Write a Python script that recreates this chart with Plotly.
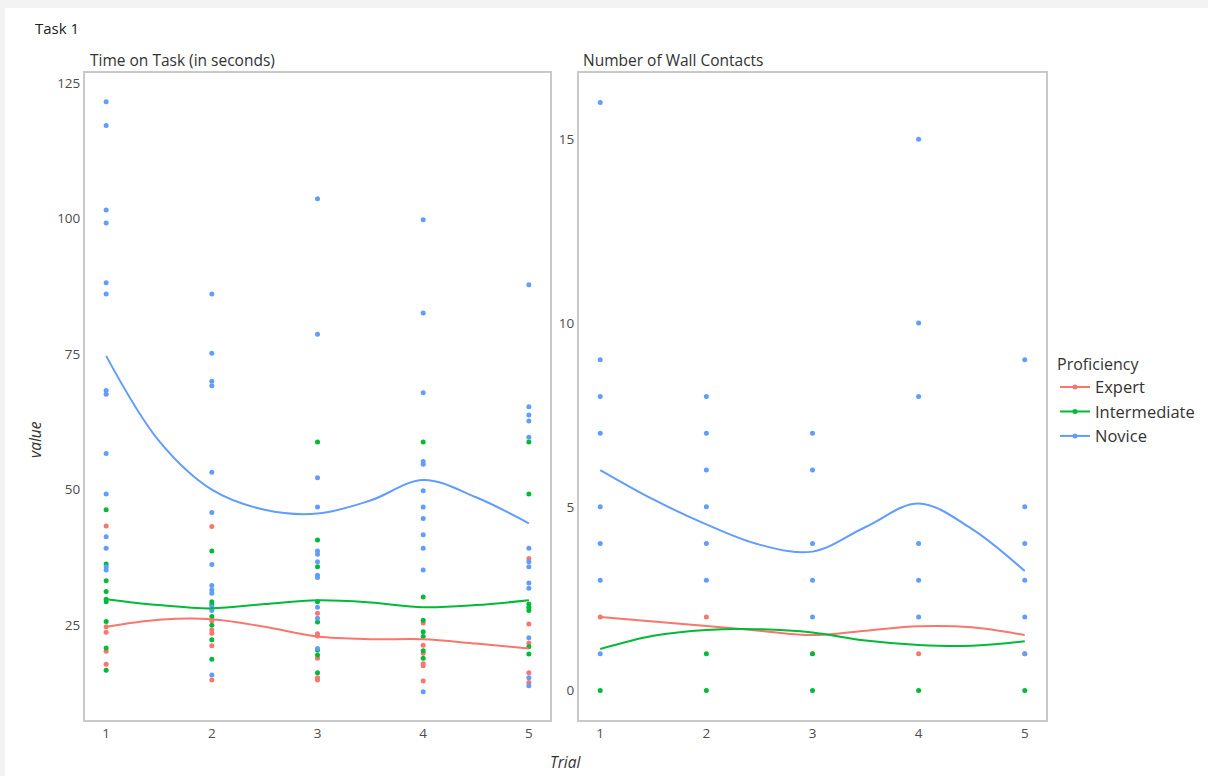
import plotly.graph_objects as go

# ---------------- data ----------------
trials = [1, 2, 3, 4, 5]
groups = ["Expert", "Intermediate", "Novice"]
colors = {"Expert": "#F8766D", "Intermediate": "#00BA38", "Novice": "#619CFF"}

# Time on task (seconds), one list per trial
time_expert = [
    [43.3, 24.7, 23.7, 20.2, 17.8],
    [43.2, 25.8, 24.1, 23.5, 21.2, 14.9],
    [27.2, 23.4, 23.0, 18.9, 15.3, 14.9],
    [25.4, 21.3, 19.8, 17.9, 17.5, 14.7],
    [37.3, 25.2, 21.7, 16.2, 14.4],
]
time_intermediate = [
    [46.3, 36.3, 33.2, 31.2, 29.8, 29.3, 25.7, 20.8, 16.7],
    [38.7, 29.3, 28.8, 26.6, 25.0, 22.3, 18.7],
    [58.8, 40.7, 35.8, 29.3, 25.6, 20.4, 19.5, 16.2],
    [58.8, 30.2, 25.9, 23.8, 22.9, 20.3, 18.9],
    [58.8, 49.2, 28.9, 28.3, 27.7, 21.0, 19.7],
]
time_novice = [
    [121.6, 117.2, 101.6, 99.2, 88.2, 86.1, 68.3, 67.6, 56.7, 49.2, 41.3, 39.2, 35.8, 35.2],
    [86.1, 75.2, 70.0, 69.2, 53.2, 45.8, 36.2, 32.3, 31.5, 30.9, 28.4, 27.7, 15.8],
    [103.7, 78.7, 52.2, 46.8, 38.7, 38.1, 36.7, 34.2, 33.8, 28.3, 26.3, 20.7],
    [99.8, 82.6, 67.9, 55.2, 54.7, 49.8, 46.8, 44.7, 41.7, 39.2, 35.2, 12.7],
    [87.8, 65.3, 63.8, 62.7, 59.7, 39.2, 36.7, 35.8, 32.8, 31.8, 22.7, 15.3, 13.8],
]

# Number of wall contacts, one list per trial
walls_expert = [[2], [2], [1], [1], [1]]
walls_intermediate = [[0], [1, 0], [1, 0], [0], [0]]
walls_novice = [
    [16, 9, 8, 7, 5, 4, 3, 1],
    [8, 7, 6, 5, 4, 3],
    [7, 6, 4, 3, 2],
    [15, 10, 8, 4, 3, 2],
    [9, 5, 4, 3, 2, 1],
]

# Loess trend values per group
smooth_x = [1, 1.5, 2, 2.5, 3, 3.5, 4, 4.5, 5]
time_smooth_expert = [24.7, 26.0, 26.1, 24.7, 22.9, 22.4, 22.4, 21.6, 20.7]
time_smooth_intermediate = [29.8, 28.7, 28.1, 28.9, 29.6, 29.2, 28.3, 28.7, 29.6]
time_smooth_novice = [74.7, 59.0, 50.0, 46.3, 45.6, 48.0, 51.8, 48.6, 43.8]
walls_smooth_expert = [2.0, 1.88, 1.76, 1.63, 1.51, 1.63, 1.75, 1.72, 1.51]
walls_smooth_intermediate = [1.13, 1.49, 1.65, 1.67, 1.58, 1.36, 1.24, 1.22, 1.34]
walls_smooth_novice = [6.0, 5.2, 4.52, 3.97, 3.78, 4.45, 5.09, 4.4, 3.25]

time_points = {"Expert": time_expert, "Intermediate": time_intermediate, "Novice": time_novice}
walls_points = {"Expert": walls_expert, "Intermediate": walls_intermediate, "Novice": walls_novice}
time_smooth = {"Expert": time_smooth_expert, "Intermediate": time_smooth_intermediate,
               "Novice": time_smooth_novice}
walls_smooth = {"Expert": walls_smooth_expert, "Intermediate": walls_smooth_intermediate,
                "Novice": walls_smooth_novice}

# ---------------- figure ----------------
W, H = 1208, 776
FONT = "'Open Sans', sans-serif"
TICK_COLOR = "#4d4d4d"
FRAME = "#c9c9c9"


def flatten(per_trial):
    xs, ys = [], []
    for t, vals in zip(trials, per_trial):
        xs += [t] * len(vals)
        ys += vals
    return xs, ys


fig = go.Figure()

panels = [("x", "y", time_points, time_smooth), ("x2", "y2", walls_points, walls_smooth)]
for xa, ya, pts, sm in panels:
    for g in groups:
        xs, ys = flatten(pts[g])
        fig.add_trace(go.Scatter(
            x=xs, y=ys, mode="markers", xaxis=xa, yaxis=ya,
            marker=dict(color=colors[g], size=5, line=dict(width=0)),
            showlegend=False, hoverinfo="x+y",
        ))
    for g in groups:
        fig.add_trace(go.Scatter(
            x=smooth_x, y=sm[g], mode="lines", xaxis=xa, yaxis=ya,
            line=dict(color=colors[g], width=2, shape="spline", smoothing=1.0),
            showlegend=False, hoverinfo="skip",
        ))

# legend entries (point + trend line)
for g in groups:
    fig.add_trace(go.Scatter(
        x=[None], y=[None], mode="lines+markers", name=g,
        line=dict(color=colors[g], width=2),
        marker=dict(color=colors[g], size=5),
    ))

y_dom = [1 - 720 / H, 1 - 73 / H]
axis_common = dict(
    showgrid=False, zeroline=False, showline=True, linecolor=FRAME, linewidth=2,
    mirror=True, ticks="",
    tickfont=dict(family=FONT, size=13.5, color=TICK_COLOR),
)

fig.update_layout(
    width=W, height=H,
    margin=dict(l=0, r=0, t=0, b=0),
    paper_bgcolor="#f3f3f3",
    plot_bgcolor="white",
    font=dict(family=FONT, color="#333333"),
    xaxis=dict(domain=[85 / W, 550 / W], range=[0.8, 5.2], tickvals=trials,
               anchor="y", **axis_common),
    yaxis=dict(domain=y_dom, range=[7.5, 126.9], tickvals=[25, 50, 75, 100, 125],
               anchor="x", **axis_common),
    xaxis2=dict(domain=[579 / W, 1046 / W], range=[0.8, 5.2], tickvals=trials,
                anchor="y2", **axis_common),
    yaxis2=dict(domain=y_dom, range=[-0.8, 16.8], tickvals=[0, 5, 10, 15],
                anchor="x2", **axis_common),
    legend=dict(
        title=dict(text="Proficiency", font=dict(family=FONT, size=16, color="#333333")),
        font=dict(family=FONT, size=16.5, color="#333333"),
        x=1055 / W, y=1 - 349 / H, xanchor="left", yanchor="top",
        bgcolor="rgba(0,0,0,0)", itemwidth=30, tracegroupgap=0,
    ),
    shapes=[dict(type="rect", xref="paper", yref="paper", x0=5 / W, x1=1, y0=0,
                 y1=1 - 8 / H, fillcolor="white", line=dict(width=0), layer="below")],
    annotations=[
        dict(text="Task 1", xref="paper", yref="paper", x=33 / W, y=1 - 28 / H,
             xanchor="left", yanchor="middle", showarrow=False,
             font=dict(family=FONT, size=15, color="#222222")),
        dict(text="Time on Task (in seconds)", xref="paper", yref="paper",
             x=88 / W, y=1 - 60 / H, xanchor="left", yanchor="middle", showarrow=False,
             font=dict(family=FONT, size=15.5, color="#333333")),
        dict(text="Number of Wall Contacts", xref="paper", yref="paper",
             x=581 / W, y=1 - 60 / H, xanchor="left", yanchor="middle", showarrow=False,
             font=dict(family=FONT, size=15.5, color="#333333")),
        dict(text="<i>value</i>", xref="paper", yref="paper", x=35 / W, y=1 - 440 / H,
             xanchor="center", yanchor="middle", showarrow=False, textangle=-90,
             font=dict(family=FONT, size=15.5, color="#333333")),
        dict(text="<i>Trial</i>", xref="paper", yref="paper", x=566 / W, y=1 - 762 / H,
             xanchor="center", yanchor="middle", showarrow=False,
             font=dict(family=FONT, size=15.5, color="#333333")),
    ],
)

fig.write_html("out.html")
